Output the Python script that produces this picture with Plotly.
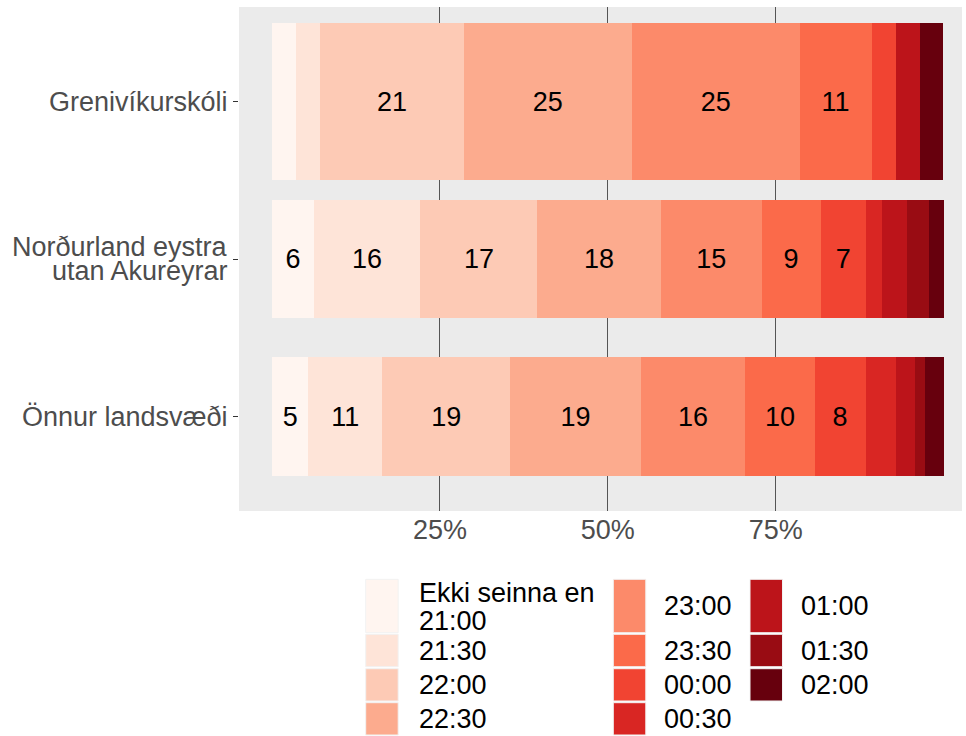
import plotly.graph_objects as go

# flokkar (ofan frá og niður) og tímabil
categories = ["Grenivíkurskóli", "Norðurland eystra utan Akureyrar", "Önnur landsvæði"]
time_labels = ["Ekki seinna en 21:00", "21:30", "22:00", "22:30", "23:00", "23:30",
               "00:00", "00:30", "01:00", "01:30", "02:00"]

# hlutfall (%) fyrir hvern flokk, í röð time_labels
greni = [3.57, 3.57, 21.43, 25.0, 25.0, 10.71, 3.57, 0.0, 3.57, 0.0, 3.57]
nordurland = [6.2, 15.9, 17.4, 18.4, 15.0, 8.8, 6.7, 2.5, 3.7, 3.2, 2.2]
onnur = [5.4, 11.0, 19.1, 19.4, 15.6, 10.3, 7.6, 4.5, 2.8, 1.6, 2.7]

bar_widths = [1.0, 0.75, 0.75]
x_tickvals = [25, 50, 75]
x_ticktext = ["25%", "50%", "75%"]

colors = ["#FFF5F0", "#FEE4D8", "#FDCAB5", "#FCAB8E", "#FC8A6A", "#FB6A4A",
          "#F14432", "#D92623", "#BC141A", "#990C13", "#67000D"]

FONT = "Liberation Sans, Arial, sans-serif"
GREY = "#4D4D4D"

# stærð teikniflatar í pixlum
W, H = 966, 736
L, R, T, B = 239, 4, 7, 225
PW, PH = W - L - R, H - T - B


def px_x(px):
    return (px - L) / PW


def px_y(py):
    return (H - B - py) / PH


fig = go.Figure()
series = [greni, nordurland, onnur]
for i, lab in enumerate(time_labels):
    vals = [s[i] for s in series]
    txt = [str(int(round(v))) if v >= 5 else "" for v in vals]
    fig.add_trace(go.Bar(
        name=lab, y=categories, x=vals, orientation="h", width=bar_widths,
        marker=dict(color=colors[i], line=dict(width=0)),
        text=txt, textposition="inside", insidetextanchor="middle",
        textangle=0, constraintext="none",
        textfont=dict(color="black", size=27, family=FONT),
        hoverinfo="x+y+name",
    ))

annotations = []
# flokkaheiti á y-ás
for cat in categories:
    parts = cat.split(" utan ")
    if len(parts) == 2:
        lines = [parts[0], "utan " + parts[1]]
        shifts = [12, -12]
    else:
        lines = [cat]
        shifts = [0]
    for line, sh in zip(lines, shifts):
        annotations.append(dict(
            x=0, xref="paper", xanchor="right", xshift=-9,
            y=cat, yref="y", yanchor="middle", yshift=sh,
            text=line, showarrow=False,
            font=dict(size=27, color=GREY, family=FONT)))

# skýringar (legend) teiknaðar handvirkt í þremur dálkum
col_key_x = [365.7, 613.3, 750.0]
col_text_x = [416.7, 662.3, 799.0]
row_y = [(579.3, 632.7), (634.3, 666.7), (668.7, 701.0), (702.7, 735.0)]
shapes = []
for i, lab in enumerate(time_labels):
    col, row = i // 4, i % 4
    y0, y1 = row_y[row]
    shapes.append(dict(
        type="rect", xref="paper", yref="paper",
        x0=px_x(col_key_x[col]), x1=px_x(col_key_x[col] + 32.5),
        y0=px_y(y1), y1=px_y(y0),
        fillcolor=colors[i], line=dict(color="#F2F2F2", width=1), layer="above"))
    if lab.startswith("Ekki"):
        lines = [("Ekki seinna en", 592.5), ("21:00", 620.5)]
    else:
        lines = [(lab, (y0 + y1) / 2)]
    for text, yc in lines:
        annotations.append(dict(
            x=px_x(col_text_x[col]), xref="paper", xanchor="left",
            y=px_y(yc), yref="paper", yanchor="middle",
            text=text, showarrow=False,
            font=dict(size=27, color="black", family=FONT)))

fig.update_layout(
    barmode="stack",
    width=W, height=H,
    margin=dict(l=L, r=R, t=T, b=B, pad=0),
    paper_bgcolor="white",
    plot_bgcolor="#EBEBEB",
    showlegend=False,
    font=dict(family=FONT, size=27, color=GREY),
    annotations=annotations,
    shapes=shapes,
    xaxis=dict(
        range=[-4.93, 102.75], tickvals=x_tickvals, ticktext=x_ticktext,
        showgrid=True, gridcolor="#555555", gridwidth=1,
        zeroline=False, showline=False, ticks="",
        tickfont=dict(size=27, color=GREY, family=FONT), fixedrange=True,
    ),
    yaxis=dict(
        type="category", categoryorder="array", categoryarray=categories[::-1],
        range=[-0.6, 2.6], showgrid=False, zeroline=False, showline=False,
        showticklabels=False, ticks="outside", ticklen=5, tickwidth=1,
        tickcolor="#333333", fixedrange=True,
    ),
)

fig.write_html("out.html", config={"displayModeBar": False},
               post_script="document.body.style.margin='0px';")
